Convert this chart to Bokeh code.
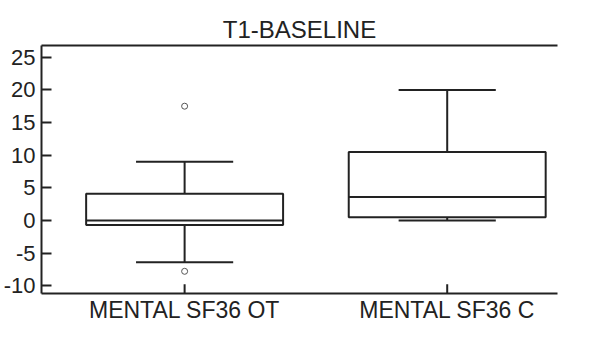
from bokeh.plotting import figure
from bokeh.models import Range1d, LinearAxis, FixedTicker, ColumnDataSource
from bokeh.embed import file_html
from bokeh.resources import INLINE

categories = ["MENTAL SF36 OT", "MENTAL SF36 C"]
positions = [1, 2]
q1 = [-0.7, 0.5]
median = [0.0, 3.6]
q3 = [4.1, 10.5]
lower_whisker = [-6.4, 0.0]
upper_whisker = [9.0, 20.0]
outlier_pos = [1, 1]
outlier_val = [17.5, -7.8]
y_ticks = [-10, -5, 0, 5, 10, 15, 20, 25]
y_tick_labels = ["-10", "-5", "0", "5", "10", "15", "20", "25"]

INK = "#222222"
FONT = "Liberation Sans"
box_w = 0.75
cap_w = 0.37
Y0, Y1 = -11.2, 26.8
tick_len = 1.4  # inward x tick length in data units (~9px)

p = figure(width=577, height=325, output_backend="svg", toolbar_location=None,
           x_range=Range1d(0.455, 2.42), y_range=Range1d(Y0, Y1),
           title="T1-BASELINE", min_border_right=20, min_border_left=38,
           min_border_top=45, min_border_bottom=0)
p.outline_line_color = None
p.grid.visible = False
p.background_fill_color = "white"
p.border_fill_color = "white"

p.title.align = "center"
p.title.text_font = FONT
p.title.text_font_size = "24px"
p.title.text_font_style = "normal"
p.title.text_color = INK
p.title.standoff = 6

src = ColumnDataSource(dict(
    x=positions, q1=q1, med=median, q3=q3, lo=lower_whisker, hi=upper_whisker,
    x0b=[x - box_w / 2 for x in positions], x1b=[x + box_w / 2 for x in positions],
    x0c=[x - cap_w / 2 for x in positions], x1c=[x + cap_w / 2 for x in positions],
    t0=[Y0] * len(positions), t1=[Y0 + tick_len] * len(positions),
))

p.segment(x0="x", y0="q3", x1="x", y1="hi", source=src, line_color=INK, line_width=2)
p.segment(x0="x", y0="q1", x1="x", y1="lo", source=src, line_color=INK, line_width=2)
p.segment(x0="x0c", y0="hi", x1="x1c", y1="hi", source=src, line_color=INK, line_width=2)
p.segment(x0="x0c", y0="lo", x1="x1c", y1="lo", source=src, line_color=INK, line_width=2)
p.quad(left="x0b", right="x1b", bottom="q1", top="q3", source=src,
       fill_color="white", line_color=INK, line_width=2)
p.segment(x0="x0b", y0="med", x1="x1b", y1="med", source=src, line_color=INK, line_width=2)
p.scatter(outlier_pos, outlier_val, marker="circle", size=6, fill_color="white",
          line_color="#555555", line_width=1)
# inward x tick marks at the category positions
p.segment(x0="x", y0="t0", x1="x", y1="t1", source=src, line_color=INK, line_width=2)

for ax in (p.xaxis[0], p.yaxis[0]):
    ax.axis_line_width = 2
    ax.axis_line_color = INK
    ax.major_tick_line_width = 2
    ax.major_tick_line_color = INK
    ax.major_tick_in = 10
    ax.major_tick_out = 0
    ax.minor_tick_line_color = None
    ax.major_label_text_font = FONT
    ax.major_label_text_color = INK
    ax.axis_label_standoff = 0
    ax.axis_label_text_font_size = "0px"

p.xaxis.ticker = FixedTicker(ticks=positions)
p.xaxis.major_label_overrides = {pos: c for pos, c in zip(positions, categories)}
p.xaxis.major_label_text_font_size = "23px"
p.xaxis.major_label_standoff = 3
p.xaxis.major_tick_in = 0
p.xaxis.major_tick_line_color = None

p.yaxis.ticker = FixedTicker(ticks=y_ticks)
p.yaxis.major_label_overrides = {t: s for t, s in zip(y_ticks, y_tick_labels)}
p.yaxis.major_label_text_font_size = "22px"
p.yaxis.major_label_standoff = 6

top = LinearAxis(ticker=FixedTicker(ticks=[]), axis_line_width=2, axis_line_color=INK,
                 major_tick_line_color=None, minor_tick_line_color=None,
                 major_label_text_font_size="0px", major_label_standoff=0,
                 axis_label_standoff=0, axis_label_text_font_size="0px")
p.add_layout(top, "above")

open("out.html", "w").write(file_html(p, INLINE))
